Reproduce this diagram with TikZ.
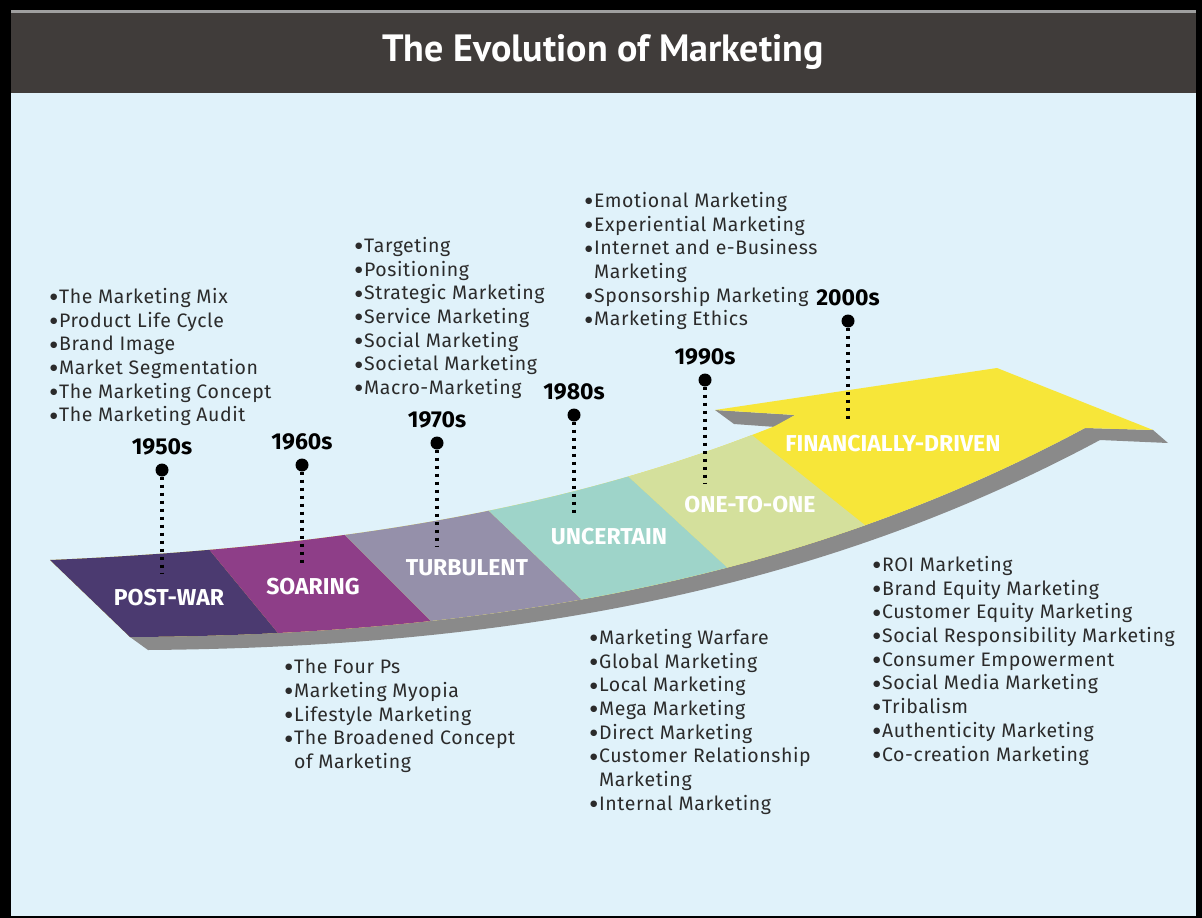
\documentclass[tikz,border=0pt]{standalone}
\usepackage{fontspec}
\setmainfont{Fira Sans}
\newfontfamily\titlefont{PT Sans}
\newfontfamily\itemfont[LetterSpace=3]{Fira Sans}
\newfontfamily\bulfont{DejaVu Sans}
\usetikzlibrary{positioning}
\definecolor{bgblue}{HTML}{E0F2FA}
\definecolor{titlebar}{HTML}{403C3A}
\definecolor{postwar}{HTML}{4B3A70}
\definecolor{soaring}{HTML}{8E3E88}
\definecolor{turbulent}{HTML}{9590AA}
\definecolor{uncertain}{HTML}{9ED4C9}
\definecolor{onetoone}{HTML}{D4E09C}
\definecolor{financial}{HTML}{F7E639}
\definecolor{bandgray}{HTML}{8A8A8A}
\definecolor{itemtext}{HTML}{2B2B2B}
\newcommand{\bul}{\raisebox{3.8pt}{\bulfont\fontsize{8.5}{9}\selectfont ●}\kern1.5pt}
\tikzset{x=1pt, y=-1pt,
    decade/.style={
        font=\fontsize{23}{26}\selectfont\bfseries,
        text=black,
        inner sep=0pt},
    dot/.style={
        circle,
        fill=black,
        minimum size=13pt,
        inner sep=0pt},
    dotline/.style={
        line width=3.5pt,
        dash pattern=on 3.5pt off 4.5pt},
    era/.style={
        font=\fontsize{23}{26}\selectfont\bfseries,
        text=white},
    items/.style={
        font=\itemfont\fontsize{19.5}{23.7}\selectfont,
        text=itemtext,
        align=left,
        anchor=north west,
        inner sep=0pt}}
\def\ribbonpath{(50,560) .. controls (400,545) and (610,492) .. (775,426)
    -- (795,415) -- (715,410) -- (997,368) -- (1153,430) -- (1085,428)
    .. controls (820,570) and (520,635) .. (130,637) -- cycle}

\begin{document}
\begin{tikzpicture}
        \fill[black] (0,0) rectangle (1202,918);
        \fill[bgblue] (11,10) rectangle (1196,916);
        \fill[titlebar] (11,10) rectangle (1196,93);
        \fill[gray!75] (11,10) rectangle (1196,13);
        \node[font=\titlefont\fontsize{38}{40}\selectfont\bfseries, text=white] (title) at (603,52) {The Evolution of Marketing};

        % arrow band
        \fill[bandgray] (130,637) -- (148,650) .. controls (535,647) and (835,582) .. (1100,440)
            -- (1168,443) -- (1153,430) -- (1085,428) .. controls (820,570) and (520,635) .. (130,637) -- cycle;
        \fill[bandgray] (715,410) -- (795,415) -- (776,427) -- (734,424) -- cycle;
        \fill[financial] \ribbonpath;
        \begin{scope}
            \clip \ribbonpath;
            \fill[postwar] (20,480) -- (175,508) -- (315,678) -- (20,700) -- cycle;
            \fill[soaring] (175,508) -- (302,492) -- (473,663) -- (315,678) -- cycle;
            \fill[turbulent] (302,492) -- (445,469) -- (625,641) -- (473,663) -- cycle;
            \fill[uncertain] (445,469) -- (580,432) -- (780,616) -- (625,641) -- cycle;
            \fill[onetoone] (580,432) -- (738,424) -- (905,557) -- (780,616) -- cycle;
        \end{scope}

        \node[dot] (d1950) at (162,470) {};
        \node[dot] (d1960) at (302,465) {};
        \node[dot] (d1970) at (437,443) {};
        \node[dot] (d1980) at (574,415) {};
        \node[dot] (d1990) at (705,380) {};
        \node[dot] (d2000) at (848,321) {};
        \node[decade, above=8pt of d1950] (y1950) {1950s};
        \node[decade, above=8pt of d1960] (y1960) {1960s};
        \node[decade, above=8pt of d1970] (y1970) {1970s};
        \node[decade, above=8pt of d1980] (y1980) {1980s};
        \node[decade, above=8pt of d1990] (y1990) {1990s};
        \node[decade, above=8pt of d2000] (y2000) {2000s};
        \coordinate (e1950) at (162,574);
        \coordinate (e1960) at (302,565);
        \coordinate (e1970) at (437,547);
        \coordinate (e1980) at (574,515);
        \coordinate (e1990) at (705,483);
        \coordinate (e2000) at (848,422);
        \draw[dotline] (d1950) -- (e1950);
        \draw[dotline] (d1960) -- (e1960);
        \draw[dotline] (d1970) -- (e1970);
        \draw[dotline] (d1980) -- (e1980);
        \draw[dotline] (d1990) -- (e1990);
        \draw[dotline] (d2000) -- (e2000);

        \node[era] (postwar) at (169,598) {POST-WAR};
        \node[era] (soaring) at (313,587) {SOARING};
        \node[era] (turbulent) at (467,568) {TURBULENT};
        \node[era] (uncertain) at (609,537) {UNCERTAIN};
        \node[era] (onetoone) at (750,505) {ONE-TO-ONE};
        \node[era] (financial) at (893,444) {FINANCIALLY-DRIVEN};

        \node[items] (l1950) at (50,288) {\bul The Marketing Mix\\\bul Product Life Cycle\\\bul Brand Image\\
            \bul Market Segmentation\\\bul The Marketing Concept\\\bul The Marketing Audit};
        \node[items] (l1970) at (355,237) {\bul Targeting\\\bul Positioning\\\bul Strategic Marketing\\
            \bul Service Marketing\\\bul Social Marketing\\\bul Societal Marketing\\\bul Macro-Marketing};
        \node[items] (l1990) at (585,192) {\bul Emotional Marketing\\\bul Experiential Marketing\\
            \bul Internet and e-Business\\\hphantom{\bul}Marketing\\\bul Sponsorship Marketing\\\bul Marketing Ethics};
        \node[items] (l1960) at (285,659) {\bul The Four Ps\\\bul Marketing Myopia\\\bul Lifestyle Marketing\\
            \bul The Broadened Concept\\\hphantom{\bul}of Marketing};
        \node[items] (l1980) at (590,629) {\bul Marketing Warfare\\\bul Global Marketing\\\bul Local Marketing\\
            \bul Mega Marketing\\\bul Direct Marketing\\\bul Customer Relationship\\
            \hphantom{\bul}Marketing\\\bul Internal Marketing};
        \node[items] (l2000) at (873,556) {\bul ROI Marketing\\\bul Brand Equity Marketing\\\bul Customer Equity Marketing\\
            \bul Social Responsibility Marketing\\\bul Consumer Empowerment\\\bul Social Media Marketing\\
            \bul Tribalism\\\bul Authenticity Marketing\\\bul Co-creation Marketing};
    \end{tikzpicture}
\end{document}
